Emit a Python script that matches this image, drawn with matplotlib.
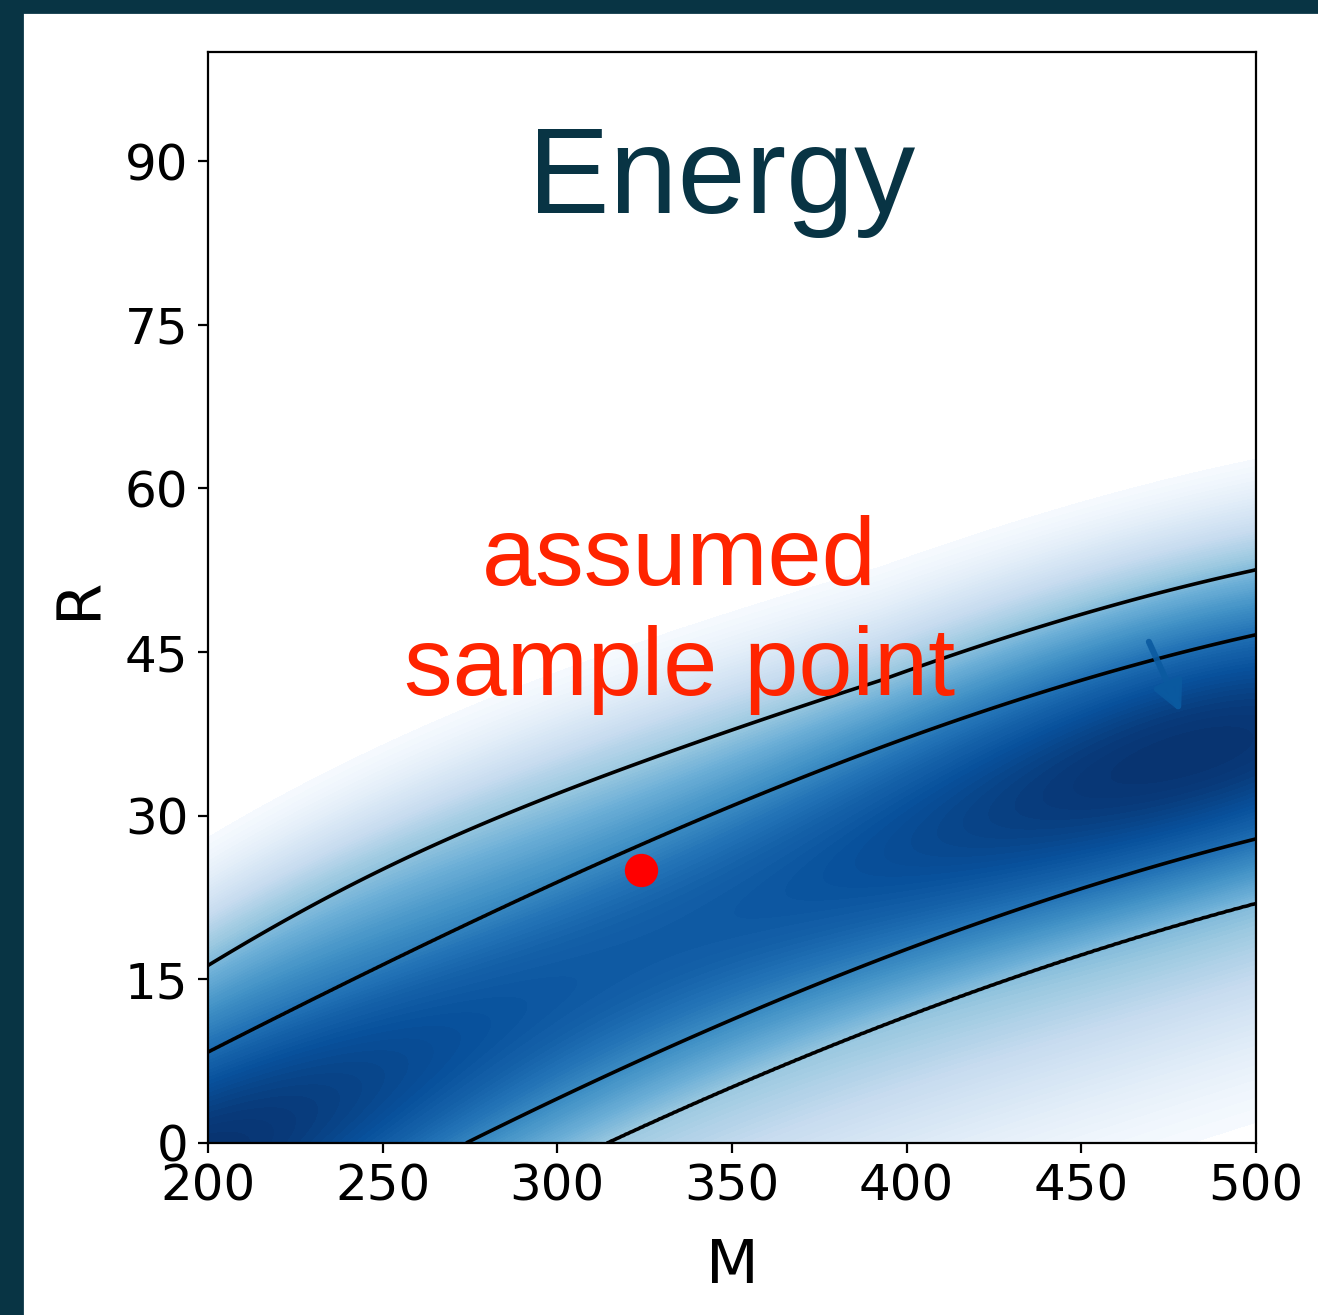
import numpy as np
import matplotlib
matplotlib.use("Agg")
import matplotlib.pyplot as plt
from matplotlib.patches import Rectangle

# valley of the energy surface: centre R(M), widths above / below it
ridge_m = [200, 250, 275, 315, 400, 500]
ridge_r = [-2.1, 6.0, 9.9, 16.3, 27.35, 37.2]
width_up = [7.0, 6.8, 6.73, 6.73, 6.43, 6.27]
width_down = [6.8, 6.7, 6.6, 6.4, 6.5, 6.2]
# extra spread of the upper flank between the two contour levels
spread_up = [0.16, 0.25, 0.3, 0.14, 0.0, 0.0]
# slower rise of the lower flank far from the valley
tail_down = 0.5

# shade of the valley floor along M (0..1 on the Blues map)
depth_m = [200, 250, 300, 350, 400, 450, 470, 500]
depth = [1.0, 0.9, 0.86, 0.85, 0.88, 0.97, 1.0, 0.97]
# energy above which the map is left blank
energy_white = 9.2

# black contours (in units of the valley width)
contour_z = [1.5, 2.45]

sample_point = (324, 25)
arrow_tail = (468.7, 46.4)
arrow_head = (479.2, 39.0)

x_ticks = [200, 250, 300, 350, 400, 450, 500]
y_ticks = [0, 15, 30, 45, 60, 75, 90]

dark = "#083444"


def smooth(values, deg=3):
    return np.polyval(np.polyfit(ridge_m, values, deg), M)


M, R = np.meshgrid(np.linspace(200, 500, 500), np.linspace(0, 100, 500))
d = R - smooth(ridge_r)
z = np.where(d >= 0, d / smooth(width_up), d / smooth(width_down))
s_up = np.clip(smooth(spread_up), 0, None)
z = np.where(z >= 0,
             z - s_up * np.clip(z - 1.5, 0, 1.5),
             z + tail_down * np.clip(-z - 2.45, 0, None))
energy = 0.5 * z ** 2

floor = np.polyval(np.polyfit(depth_m, depth, 4), M)
shade = floor * np.clip(1 - energy / energy_white, 0, 1) ** 2

fig = plt.figure(figsize=(6.59, 6.575), dpi=200)
fig.patches.append(Rectangle((0, 1 - 12 / 1315), 1, 12 / 1315, transform=fig.transFigure,
                             color=dark, zorder=-1))
fig.patches.append(Rectangle((0, 0), 22 / 1318, 1, transform=fig.transFigure,
                             color=dark, zorder=-1))

ax = fig.add_axes([0.1578, 0.1308, 0.7951, 0.8297])
ax.contourf(M, R, shade, levels=np.linspace(0.01, 1, 90), cmap="Blues", vmin=0, vmax=1)
ax.contour(M, R, energy, levels=[0.5 * v ** 2 for v in contour_z],
           colors="black", linewidths=1.3)

ax.plot(*sample_point, "o", color="red", ms=12, mew=0)
ax.annotate("", xy=arrow_head, xytext=arrow_tail,
            arrowprops=dict(arrowstyle="-|>", lw=2.2, mutation_scale=22,
                            color="#0b5aa0", alpha=0.9))

ax.text(0.4905, 0.852, "Energy", transform=ax.transAxes, ha="center", va="baseline",
        fontsize=44, color=dark, family="Liberation Sans")
ax.text(0.45, 0.4106, "assumed\nsample point", transform=ax.transAxes, ha="center",
        va="baseline", fontsize=35, color="#ff2400", family="Liberation Sans",
        linespacing=1.29)

ax.set_xlim(200, 500)
ax.set_ylim(0, 100)
ax.set_xticks(x_ticks)
ax.set_yticks(y_ticks)
ax.tick_params(labelsize=18)
ax.set_xlabel("M", fontsize=22, labelpad=9.5)
ax.set_ylabel("R", fontsize=22, labelpad=5.5)

fig.savefig("out.png", dpi=200)
